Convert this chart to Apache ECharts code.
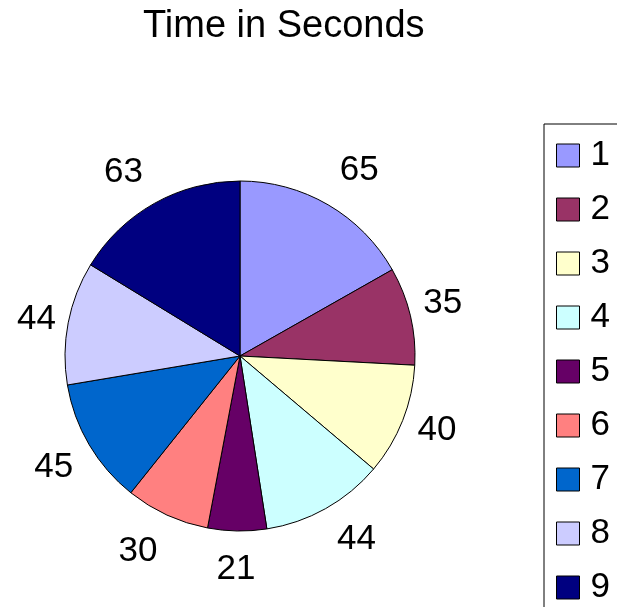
<!DOCTYPE html>
<html>
<head>
<meta charset="utf-8">
<script src="https://cdn.jsdelivr.net/npm/echarts@6/dist/echarts.min.js"></script>
<style>
  html, body { margin: 0; padding: 0; background: #fff; }
  #main { width: 617px; height: 607px; }
</style>
</head>
<body>
<div id="main"></div>
<script>
// categories / values
var categories = ['1', '2', '3', '4', '5', '6', '7', '8', '9']
var seconds = [65, 35, 40, 44, 21, 30, 45, 44, 63]
var colors = ['#9999FF', '#993366', '#FFFFCC', '#CCFFFF', '#660066', '#FF8080', '#0066CC', '#CCCCFF', '#000080']

var font = "'Liberation Sans', Arial, sans-serif"
var pieCenter = [240, 356]

var pieData = categories.map(function (name, i) {
    return { name: name, value: seconds[i] }
})

var myChart = echarts.init(document.getElementById('main'))
var option = {
    animation: false,
    color: colors,
    title: {
        text: 'Time in Seconds',
        left: 138,
        top: 3,
        textStyle: {
            fontFamily: font,
            fontSize: 38,
            fontWeight: 'normal',
            color: '#000'
        }
    },
    legend: {
        orient: 'vertical',
        left: 544,
        top: 124,
        height: 560,
        padding: [14, 30, 30, 12],
        itemWidth: 23,
        itemHeight: 23,
        itemGap: 19,
        icon: 'rect',
        borderColor: '#000',
        borderWidth: 1,
        data: categories,
        itemStyle: {
            borderColor: '#000',
            borderWidth: 1
        },
        textStyle: {
            fontFamily: font,
            fontSize: 35,
            lineHeight: 35,
            color: '#000',
            padding: [0, 0, 0, 6]
        }
    },
    series: [
        {
            name: 'Time in Seconds',
            type: 'pie',
            center: pieCenter,
            radius: 175,
            startAngle: 90,
            clockwise: true,
            avoidLabelOverlap: false,
            data: pieData,
            itemStyle: {
                borderColor: '#000',
                borderWidth: 1
            },
            label: {
                show: true,
                position: 'outside',
                formatter: '{c}',
                fontFamily: font,
                fontSize: 35,
                color: '#000',
                distanceToLabelLine: -20
            },
            labelLine: {
                show: false,
                length: 38,
                length2: 0
            },
            // excel pushes labels near the top / bottom a bit sideways
            labelLayout: function (params) {
                var r = params.labelRect
                var ux = r.x + r.width / 2 - pieCenter[0]
                var uy = r.y + r.height / 2 - pieCenter[1]
                var d = Math.sqrt(ux * ux + uy * uy) || 1
                ux /= d
                uy /= d
                var side = Math.min(1, Math.abs(ux) * 5) * (ux < 0 ? -1 : 1)
                return {
                    dx: side * (Math.abs(uy) * 26 - 10),
                    dy: -ux * 4
                }
            },
            emphasis: { disabled: true }
        }
    ]
}
myChart.setOption(option)
</script>
</body>
</html>
